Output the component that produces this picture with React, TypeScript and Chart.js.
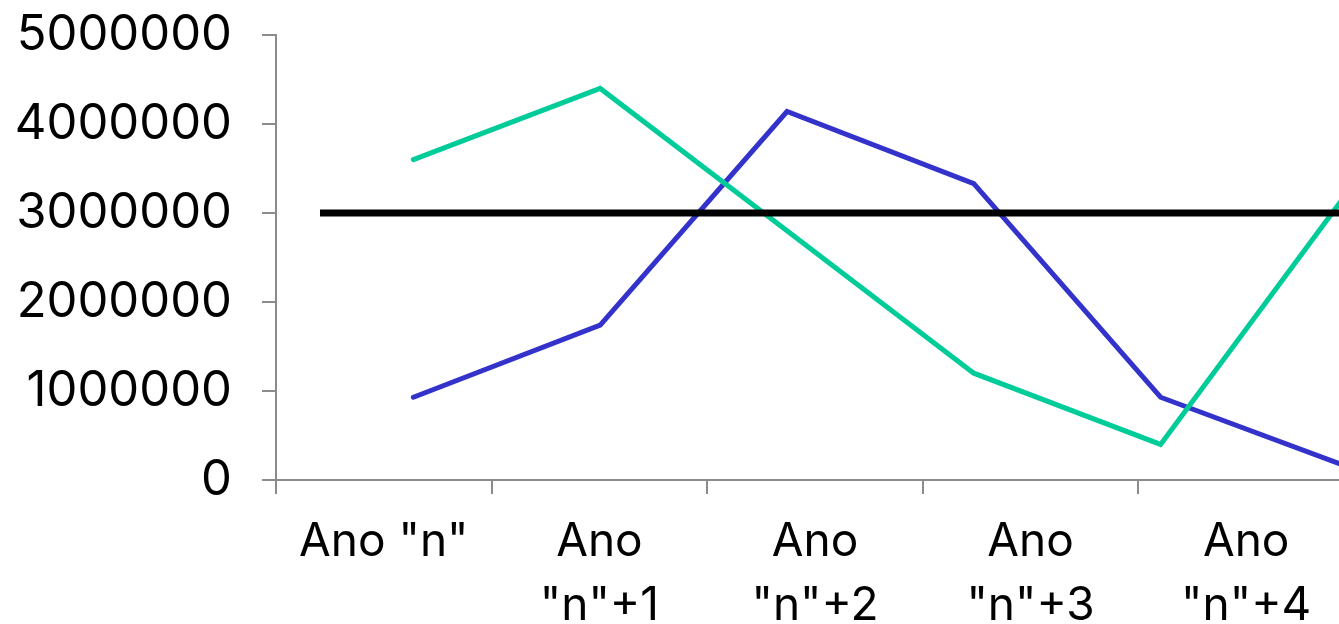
import React, { useEffect, useRef } from 'react';
import { Chart, registerables } from 'chart.js';

Chart.register(...registerables);

const categories = ['Ano "n"', 'Ano "n"+1', 'Ano "n"+2', 'Ano "n"+3', 'Ano "n"+4'];
const linePeriods = [0, 1, 2, 3, 4, 5];
const greenValues = [3600000, 4400000, 2800000, 1200000, 400000, 3230000];
const blueValues = [930000, 1740000, 4140000, 3330000, 930000, 150000];
const targetValue = 3000000;
const yTicks = [0, 1000000, 2000000, 3000000, 4000000, 5000000];

const FONT = 'Inter, "Noto Sans", sans-serif';
const AXIS = '#8c8c8c';

export default function App() {
  const ref = useRef<HTMLCanvasElement | null>(null);
  useEffect(() => {
    if (!ref.current) return;
    const chart = new Chart(ref.current, {
      type: 'line',
      data: {
        datasets: [
          {
            label: 'Meta',
            data: [
              { x: -0.5, y: targetValue },
              { x: linePeriods.length, y: targetValue },
            ],
            xAxisID: 'x2',
            borderColor: '#000000',
            borderWidth: 7,
            pointRadius: 0,
            borderCapStyle: 'butt',
          },
          {
            label: 'Série 1',
            data: linePeriods.map((p, i) => ({ x: p, y: greenValues[i] })),
            xAxisID: 'x2',
            borderColor: '#00CC99',
            borderWidth: 5,
            pointRadius: 0,
            borderCapStyle: 'round',
          },
          {
            label: 'Série 2',
            data: linePeriods.map((p, i) => ({ x: p, y: blueValues[i] })),
            xAxisID: 'x2',
            borderColor: '#3333CC',
            borderWidth: 5,
            pointRadius: 0,
            borderCapStyle: 'round',
          },
        ],
      },
      options: {
        animation: false,
        responsive: false,
        layout: { padding: { top: 35, right: 26, left: 0, bottom: 0 } },
        plugins: { legend: { display: false }, tooltip: { enabled: false } },
        scales: {
          x: {
            type: 'category',
            labels: categories,
            offset: true,
            position: 'bottom',
            grid: { offset: true, drawOnChartArea: false, drawTicks: true, tickLength: 14, color: AXIS, lineWidth: 2 },
            border: { display: true, color: AXIS, width: 2 },
            ticks: {
              autoSkip: false,
              maxRotation: 0,
              padding: 16,
              color: '#000',
              font: { family: FONT, size: 46, lineHeight: 1.4 },
              callback: (_v: any, i: number) => {
                const l = categories[i];
                return l.length > 8 ? l.split(' ') : l;
              },
            },
            afterFit: (s: any) => {
              s.height = 144;
              s.paddingLeft = 0;
              s.paddingRight = 0;
            },
          },
          x2: {
            type: 'linear',
            display: false,
            min: -0.7355,
            max: 5.0355,
          },
          y: {
            min: 0,
            max: 5000000,
            afterBuildTicks: (s: any) => {
              s.ticks = yTicks.map((v) => ({ value: v }));
            },
            grid: { drawOnChartArea: false, drawTicks: true, tickLength: 14, color: AXIS, lineWidth: 2 },
            border: { display: true, color: AXIS, width: 2 },
            ticks: {
              padding: 30,
              color: '#000',
              font: { family: FONT, size: 49 },
              callback: (v: any) => String(v),
            },
            afterFit: (s: any) => {
              s.width = 276;
              s.paddingTop = 0;
              s.paddingBottom = 0;
            },
          },
        },
      },
    } as any);
    return () => chart.destroy();
  }, []);
  return (
    <div style={{ position: 'fixed', left: 0, top: 0, width: 1339, height: 624, overflow: 'hidden', background: '#fff' }}>
      <canvas ref={ref} width={1380} height={624} />
    </div>
  );
}
